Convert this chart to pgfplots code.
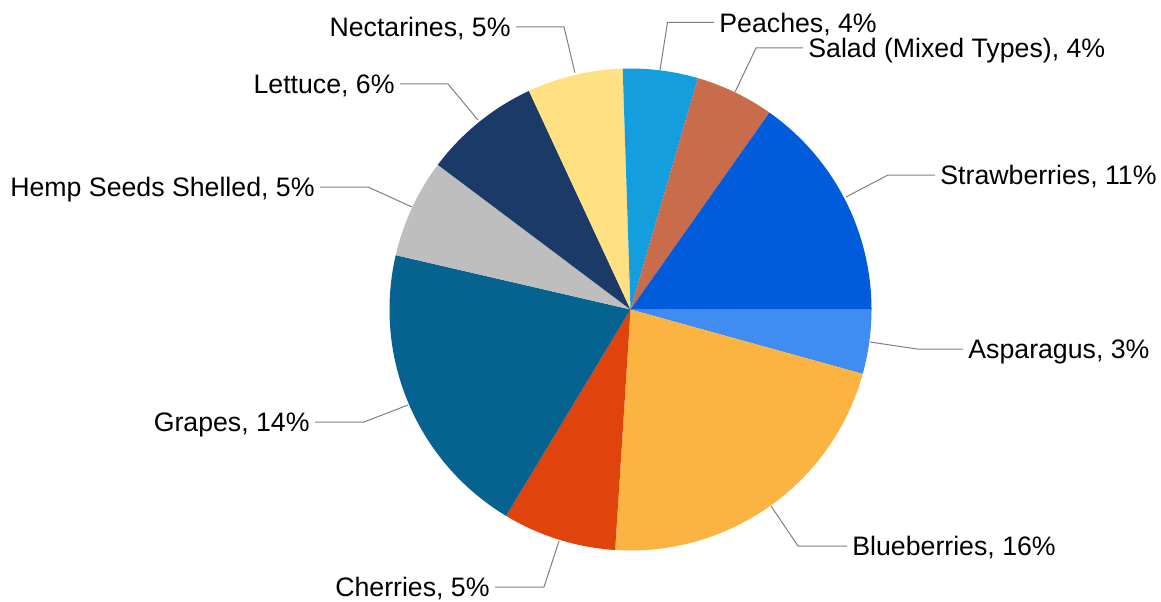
\documentclass[border=0pt]{standalone}
\usepackage{pgfplots}
\usepackage{pgfplotstable}
\pgfplotsset{compat=1.18}
\usepackage{fontspec}
\setmainfont{Liberation Sans}

\definecolor{pieC0}{HTML}{418CF0}% Asparagus
\definecolor{pieC1}{HTML}{FBB442}% Blueberries
\definecolor{pieC2}{HTML}{E0430C}% Cherries
\definecolor{pieC3}{HTML}{06638F}% Grapes
\definecolor{pieC4}{HTML}{BEBEBE}% Hemp
\definecolor{pieC5}{HTML}{1C3A68}% Lettuce
\definecolor{pieC6}{HTML}{FFE083}% Nectarines
\definecolor{pieC7}{HTML}{149EDD}% Peaches
\definecolor{pieC8}{HTML}{C86C4C}% Salad
\definecolor{pieC9}{HTML}{005CDB}% Strawberries
\definecolor{leadergray}{HTML}{7F7F7F}

\pgfplotstableread[col sep=comma]{
name,value
Asparagus,3.09
Blueberries,15.59
Cherries,5.47
Grapes,14.35
Hemp Seeds Shelled,4.76
Lettuce,5.62
Nectarines,4.60
Peaches,3.61
Salad (Mixed Types),3.78
Strawberries,10.93
}\piedata

% total
\gdef\pietotal{0}
\pgfplotstableforeachcolumnelement{value}\of\piedata\as\v{%
  \pgfmathsetmacro\t{\pietotal+\v}\xdef\pietotal{\t}}
% start / end angles, clockwise from 0 degrees
\gdef\piecum{0}
\pgfplotstableforeachcolumnelement{value}\of\piedata\as\v{%
  \pgfmathsetmacro\a{-\piecum/\pietotal*360}%
  \pgfmathsetmacro\b{-(\piecum+\v)/\pietotal*360}%
  \expandafter\xdef\csname pieA\pgfplotstablerow\endcsname{\a}%
  \expandafter\xdef\csname pieB\pgfplotstablerow\endcsname{\b}%
  \pgfmathsetmacro\c{\piecum+\v}\xdef\piecum{\c}}

\begin{document}
\begin{tikzpicture}[
  lbl/.style={inner sep=0pt, font=\fontsize{13.35}{16}\selectfont, yshift=-4.78pt},
  leader/.style={draw=leadergray, line width=0.5pt}]
\begin{axis}[
  hide axis, scale only axis,
  width=580.5pt, height=300.5pt,
  xmin=0, xmax=1161, ymin=0, ymax=601,
  clip=false]
\path (axis cs:0,0) rectangle (axis cs:1161,601);
\pgfplotsinvokeforeach{0,...,9}{
  \fill[pieC#1] (axis cs:630.5,291.5) -- +(\csname pieA#1\endcsname:120.5pt)
     arc[start angle=\csname pieA#1\endcsname, end angle=\csname pieB#1\endcsname, radius=120.5pt] -- cycle;
}
% leader lines
\draw[leader] (axis cs:660,531) -- (axis cs:667.5,578.5) -- (axis cs:714,578.5);
\draw[leader] (axis cs:735,509) -- (axis cs:756,553) -- (axis cs:803,553);
\draw[leader] (axis cs:846,404) -- (axis cs:888,426) -- (axis cs:935,426);
\draw[leader] (axis cs:870,259) -- (axis cs:917,252) -- (axis cs:963,252);
\draw[leader] (axis cs:771,95) -- (axis cs:798,55) -- (axis cs:847,55);
\draw[leader] (axis cs:559,60) -- (axis cs:544,14) -- (axis cs:495,14);
\draw[leader] (axis cs:408,196) -- (axis cs:364,179) -- (axis cs:315,179);
\draw[leader] (axis cs:412,394) -- (axis cs:368,414) -- (axis cs:320,414);
\draw[leader] (axis cs:478,481) -- (axis cs:448,517) -- (axis cs:400,517);
\draw[leader] (axis cs:575,528) -- (axis cs:564,574) -- (axis cs:516,574);
% labels
\node[lbl, anchor=base west] at (axis cs:719,578.5) {Peaches, 4\%};
\node[lbl, anchor=base west] at (axis cs:808,553) {Salad (Mixed Types), 4\%};
\node[lbl, anchor=base west] at (axis cs:940,426) {Strawberries, 11\%};
\node[lbl, anchor=base west] at (axis cs:968,252) {Asparagus, 3\%};
\node[lbl, anchor=base west] at (axis cs:852,55) {Blueberries, 16\%};
\node[lbl, anchor=base east] at (axis cs:490,14) {Cherries, 5\%};
\node[lbl, anchor=base east] at (axis cs:310,179) {Grapes, 14\%};
\node[lbl, anchor=base east] at (axis cs:315,414) {Hemp Seeds Shelled, 5\%};
\node[lbl, anchor=base east] at (axis cs:395,517) {Lettuce, 6\%};
\node[lbl, anchor=base east] at (axis cs:511,574) {Nectarines, 5\%};
\end{axis}
\end{tikzpicture}
\end{document}
